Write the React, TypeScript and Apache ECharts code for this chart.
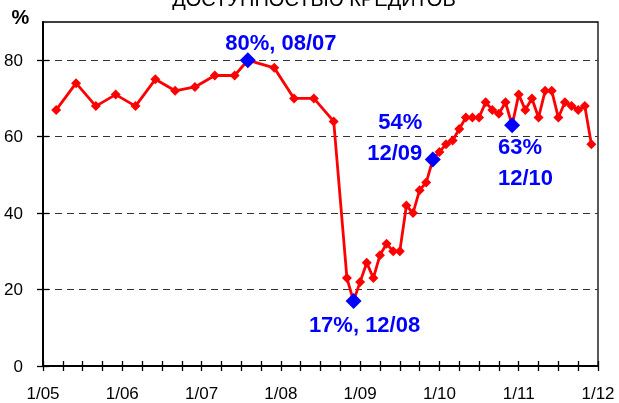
import React, { useEffect, useRef } from "react";
import * as echarts from "echarts";

// months counted from January 2005 (0 = 1/05)
const months = [2, 5, 8, 11, 14, 17, 20, 23, 26, 29, 31, 35, 38, 41, 44, 46, 47, 48, 49, 50, 51, 52, 53, 54, 55, 56, 57, 58, 59, 60, 61, 62, 63, 64, 65, 66, 67, 68, 69, 70, 71, 72, 73, 74, 75, 76, 77, 78, 79, 80, 81, 82, 83];
const values = [67, 74, 68, 71, 68, 75, 72, 73, 76, 76, 80, 78, 70, 70, 64, 23, 17, 22, 27, 23, 29, 32, 30, 30, 42, 40, 46, 48, 54, 56, 58, 59, 62, 65, 65, 65, 69, 67, 66, 69, 63, 71, 67, 70, 65, 72, 72, 65, 69, 68, 67, 68, 58];

const highlightMonths = [31, 47, 59, 71];
const highlightValues = [80, 17, 54, 63];
const highlightLabels = ["80%, 08/07", "17%, 12/08", "54%\n12/09", "63%\n12/10"];

const yTicks = [0, 20, 40, 60, 80];
const titleText = "ДОСТУПНОСТЬЮ КРЕДИТОВ";
const unitText = "%";

const FONT = "'Liberation Sans', Arial, sans-serif";

export default function App() {
  const ref = useRef<HTMLDivElement>(null);
  useEffect(() => {
    if (!ref.current) return;
    const chart = echarts.init(ref.current, null, { renderer: "svg" });
    const labelCfg = [
      { align: "center", verticalAlign: "middle", offset: [33, -18] },
      { align: "center", verticalAlign: "middle", offset: [11, 23] },
      { align: "right", verticalAlign: "middle", offset: [-10.6, -22.4] },
      { align: "left", verticalAlign: "middle", offset: [-14.2, 36.7] },
    ];
    const highlightData = highlightMonths.map((m, i) => ({
      value: [m, highlightValues[i]],
      label: {
        show: true,
        position: "inside",
        formatter: highlightLabels[i],
        color: "#0000ff",
        opacity: 1,
        fontFamily: FONT,
        fontWeight: "bold",
        fontSize: 22,
        lineHeight: 31,
        ...labelCfg[i],
      },
    }));
    const xBase = {
      type: "value",
      min: 0,
      max: 84,
      interval: 3,
      gridIndex: 0,
      position: "bottom",
      splitLine: { show: false },
    };
    const yBase = {
      type: "value",
      min: 0,
      max: 90,
      interval: 20,
      gridIndex: 0,
      position: "left",
    };
    chart.setOption({
      animation: false,
      grid: {
        left: 43,
        right: 21,
        top: 22,
        bottom: 37,
        show: true,
        borderColor: "#000",
        borderWidth: 1.3,
        backgroundColor: "transparent",
      },
      graphic: [
        {
          type: "text",
          x: 314,
          y: -1,
          style: {
            text: titleText,
            fontFamily: FONT,
            fontSize: 20,
            fill: "#000",
            align: "center",
            verticalAlign: "middle",
          },
        },
        {
          type: "text",
          x: 20.5,
          y: 17,
          style: {
            text: unitText,
            fontFamily: FONT,
            fontSize: 20,
            fontWeight: "bold",
            fill: "#000",
            align: "center",
            verticalAlign: "middle",
          },
        },
      ],
      xAxis: [
        {
          ...xBase,
          axisLine: { show: true, lineStyle: { color: "#000", width: 2 } },
          axisTick: { show: true, inside: false, length: 5, lineStyle: { color: "#000", width: 1.3 } },
          axisLabel: {
            show: true,
            margin: 19,
            color: "#000",
            fontFamily: FONT,
            fontSize: 17,
            showMinLabel: true,
            showMaxLabel: true,
            formatter: (v: number) => (v % 12 === 0 ? "1/" + String(5 + v / 12).padStart(2, "0") : ""),
          },
        },
        {
          ...xBase,
          axisLine: { show: false },
          axisTick: { show: true, inside: true, length: 5, lineStyle: { color: "#000", width: 1.3 } },
          axisLabel: { show: false },
        },
      ],
      yAxis: [
        {
          ...yBase,
          axisLine: { show: true, lineStyle: { color: "#000", width: 2 } },
          axisTick: { show: true, inside: false, length: 6, customValues: yTicks, lineStyle: { color: "#000", width: 1.3 } },
          axisLabel: {
            show: true,
            margin: 20,
            color: "#000",
            fontFamily: FONT,
            fontSize: 17,
            customValues: yTicks,
            formatter: (v: number) => (v === 90 ? "" : String(v)),
          },
          splitLine: { show: true, lineStyle: { color: "#333", width: 1, type: [7, 5] } },
        },
        {
          ...yBase,
          axisLine: { show: false },
          axisTick: { show: true, inside: true, length: 6, customValues: yTicks, lineStyle: { color: "#000", width: 1.3 } },
          axisLabel: { show: false },
          splitLine: { show: false },
        },
      ],
      series: [
        {
          type: "line",
          xAxisIndex: 0,
          yAxisIndex: 0,
          data: months.map((m, i) => [m, values[i]]),
          symbol: "diamond",
          symbolSize: 10,
          showAllSymbol: true,
          lineStyle: { color: "#ff0000", width: 2.8 },
          itemStyle: { color: "#ff0000", opacity: 1 },
          z: 3,
        },
        {
          type: "scatter",
          xAxisIndex: 0,
          yAxisIndex: 0,
          data: highlightData,
          symbol: "diamond",
          symbolSize: 16,
          itemStyle: { color: "#0000ff", opacity: 1 },
          z: 4,
        },
      ],
    });
    return () => chart.dispose();
  }, []);
  return <div ref={ref} style={{ position: "fixed", left: 0, top: 0, width: 619, height: 403 }} />;
}
